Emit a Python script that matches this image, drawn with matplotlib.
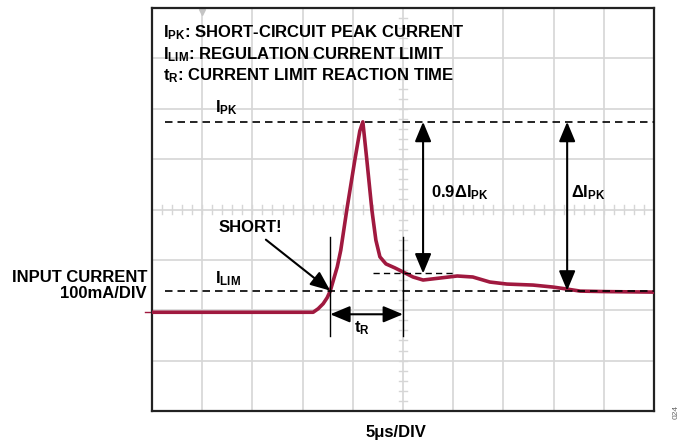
import matplotlib
matplotlib.use("Agg")
import matplotlib.pyplot as plt
import numpy as np

plt.rcParams["font.family"] = ["Liberation Sans", "DejaVu Sans"]
plt.rcParams["font.weight"] = "bold"
plt.rcParams["mathtext.fontset"] = "custom"
plt.rcParams["mathtext.rm"] = "Liberation Sans:bold"
plt.rcParams["mathtext.it"] = "Liberation Sans:bold"
plt.rcParams["mathtext.bf"] = "Liberation Sans:bold"
plt.rcParams["mathtext.default"] = "rm"

# scope trace, in divisions (10 x 8 screen)
trace_x = [0.00, 3.21, 3.31, 3.41, 3.49, 3.55, 3.69, 3.76, 3.88, 4.04, 4.14, 4.20,
           4.28, 4.38, 4.46, 4.54, 4.66, 4.84, 5.00, 5.20, 5.40, 5.74, 6.08, 6.39,
           6.73, 7.07, 7.59, 7.99, 8.27, 8.53, 9.06, 10.0]
trace_y = [1.96, 1.96, 2.03, 2.13, 2.25, 2.38, 2.86, 3.19, 3.99, 4.98, 5.56, 5.74,
           4.98, 3.99, 3.39, 3.06, 2.92, 2.84, 2.76, 2.66, 2.60, 2.64, 2.68, 2.66,
           2.56, 2.52, 2.50, 2.46, 2.42, 2.38, 2.37, 2.36]

i_pk = 5.74      # peak current level
i_lim = 2.39     # regulation limit
i_09 = 2.73      # 0.9 * delta level
t_short = 3.55   # short event
t_react = 5.00   # limit reached
x_arrow_09 = 5.40
x_arrow_pk = 8.27

header = ["I$_{PK}$: SHORT-CIRCUIT PEAK CURRENT",
          "I$_{LIM}$: REGULATION CURRENT LIMIT",
          "t$_{R}$: CURRENT LIMIT REACTION TIME"]

trace_color = "#a0193f"
grid_color = "#d6d6d6"
fs = 12

fig = plt.figure(figsize=(6.78, 4.43), dpi=100)
ax = fig.add_axes([152 / 678, 32 / 443, 502 / 678, 403 / 443])
ax.set_xlim(0, 10)
ax.set_ylim(0, 8)
ax.set_xticks(range(11))
ax.set_yticks(range(9))
ax.grid(color=grid_color, lw=1.2, zorder=0)
ax.tick_params(length=0, labelbottom=False, labelleft=False)
for s in ax.spines.values():
    s.set_linewidth(1.6)
    s.set_color("#222222")

# minor ticks on the centre cross
for v in np.arange(0.2, 10, 0.2):
    ax.plot([v, v], [3.92, 4.08], color=grid_color, lw=1.0, zorder=0)
for v in np.arange(0.2, 8, 0.2):
    ax.plot([4.93, 5.07], [v, v], color=grid_color, lw=1.0, zorder=0)

# trace
ax.plot(trace_x, trace_y, color=trace_color, lw=2.6, zorder=3,
        solid_joinstyle="round")

# reference levels
dash = (0, (4.5, 3))
ax.plot([0.26, 10], [i_pk, i_pk], color="black", lw=1.2, ls=dash, zorder=4)
ax.plot([0.26, 10], [i_lim, i_lim], color="black", lw=1.2, ls=dash, zorder=4)
ax.plot([4.40, 6.0], [i_09, i_09], color="black", lw=1.0, ls=dash, zorder=4)

# reaction time markers
for t in (t_short, t_react):
    ax.plot([t, t], [1.49, 3.45], color="black", lw=1.0, zorder=4)

arrow = dict(arrowstyle="<|-|>,head_length=0.6,head_width=0.25",
             color="black", lw=1.5, shrinkA=0, shrinkB=0, mutation_scale=20)
ax.annotate("", xy=(t_short, 1.92), xytext=(t_react, 1.92), arrowprops=arrow, zorder=5)
ax.annotate("", xy=(x_arrow_09, i_pk), xytext=(x_arrow_09, i_09), arrowprops=arrow, zorder=5)
ax.annotate("", xy=(x_arrow_pk, i_pk), xytext=(x_arrow_pk, i_lim), arrowprops=arrow, zorder=5)
ax.annotate("SHORT!", xy=(t_short, i_lim), xytext=(2.6, 3.55),
            fontsize=fs, ha="right", va="baseline",
            arrowprops=dict(arrowstyle="-|>,head_length=0.6,head_width=0.25",
                            color="black", lw=1.5, shrinkA=2, shrinkB=0,
                            mutation_scale=20), zorder=5)

# labels
ax.text(0.22, 7.42, header[0], fontsize=fs, va="baseline")
ax.text(0.22, 6.99, header[1], fontsize=fs, va="baseline")
ax.text(0.22, 6.57, header[2], fontsize=fs, va="baseline")
ax.text(1.25, 5.93, "I$_{PK}$", fontsize=fs, va="baseline")
ax.text(1.25, 2.54, "I$_{LIM}$", fontsize=fs, va="baseline")
ax.text(4.18, 1.57, "t$_{R}$", fontsize=fs, ha="center", va="baseline")
ax.text(5.56, 4.25, "0.9ΔI$_{PK}$", fontsize=fs, va="baseline")
ax.text(8.34, 4.25, "ΔI$_{PK}$", fontsize=fs, va="baseline")

# channel / trigger markers
ax.plot([-0.14, -0.03], [1.96, 1.96], color=trace_color, lw=1.0, clip_on=False)
ax.plot([1.0], [7.93], marker="v", ms=5, color="#c4c4c4", clip_on=False)

fig.text(147 / 678, 1 - 277 / 443, "INPUT CURRENT", fontsize=fs, ha="right", va="center")
fig.text(147 / 678, 1 - 293 / 443, "100mA/DIV", fontsize=fs, ha="right", va="center")
fig.text(396 / 678, 1 - 433 / 443, "5μs/DIV", fontsize=fs, ha="center", va="center")
fig.text(676 / 678, 1 - 412 / 443, "024", fontsize=6, color="#666666",
         rotation=90, ha="center", va="center", fontweight="normal")

fig.savefig("out.png", dpi=100)
